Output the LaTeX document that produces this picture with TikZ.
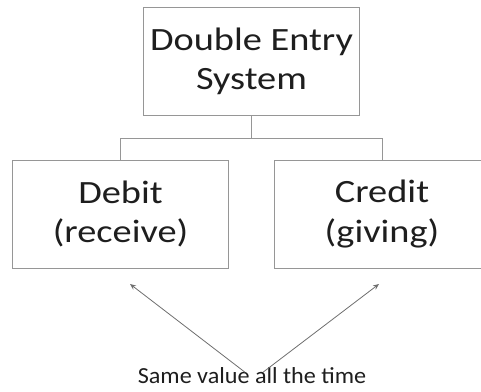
\documentclass[tikz,border=0pt]{standalone}
\usepackage{fontspec}
\setmainfont{Carlito}
\newfontfamily\boxfont[FakeStretch=1.18]{Carlito}
\newfontfamily\notefont[FakeStretch=1.05]{Carlito}
\usetikzlibrary{arrows.meta}

\definecolor{boxline}{RGB}{150,150,150}
\definecolor{arrowline}{RGB}{110,110,110}
\definecolor{txt}{RGB}{30,30,30}

\tikzset{
  box/.style={draw=boxline, line width=1pt, minimum width=216pt, minimum height=108pt,
    align=center, text=txt, font=\boxfont\fontsize{32.5}{39.5}\selectfont, inner sep=0pt},
  conn/.style={draw=boxline, line width=1pt},
  pointer/.style={draw=arrowline, line width=0.8pt, -{Stealth[length=6pt,width=5pt]}}
}

\begin{document}
\begin{tikzpicture}[x=1pt,y=-1pt]
\useasboundingbox (0,0) rectangle (481,391);
\clip (0,0) rectangle (481,391);
\node[box] (des) at (251.5, 61.5) {Double Entry\\System};
\node[box] (debit) at (120.5, 214) {Debit\\(receive)};
\node[box] (credit) at (382, 214) {Credit\\(giving)};
\draw[conn] (des.south) -- ++(0,22) -| (debit.north);
\draw[conn] (des.south) -- ++(0,22) -| (credit.north);
\node[text=txt, font=\notefont\fontsize{23}{26}\selectfont, inner sep=0pt] (same) at (252, 375.5) {Same value all the time};
\coordinate (dtip) at (130, 284);
\coordinate (ctip) at (379, 284);
\draw[pointer] ([xshift=-7pt, yshift=-5pt]same.north) -- (dtip);
\draw[pointer] ([xshift=11pt, yshift=-5pt]same.north) -- (ctip);
\end{tikzpicture}
\end{document}
